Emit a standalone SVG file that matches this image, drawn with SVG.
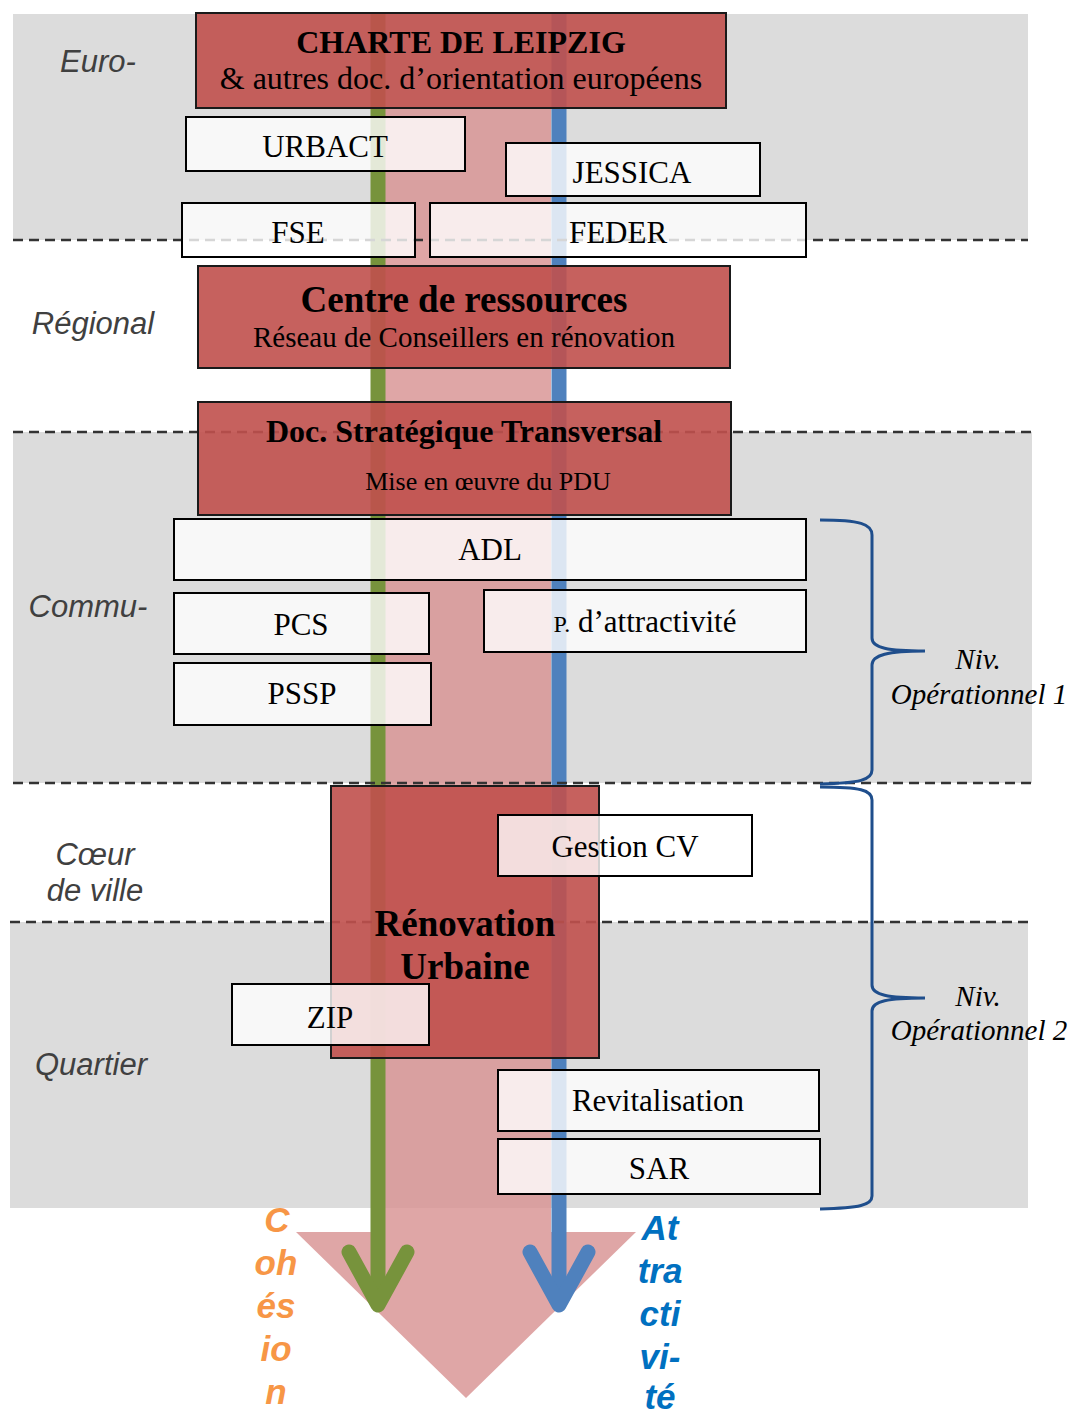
<svg xmlns="http://www.w3.org/2000/svg" width="1070" height="1409" viewBox="0 0 1070 1409">
<style>
.band{fill:#dcdcdc}
.dash{stroke:#333;stroke-width:2.5;stroke-dasharray:10 6;fill:none}
.red{fill:#c0504d;fill-opacity:0.9;stroke:#1a1a1a;stroke-width:2}
.white{fill:#ffffff;fill-opacity:0.8;stroke:#000;stroke-width:2}
.t{font-family:"Liberation Serif","Times New Roman",serif;fill:#000;text-anchor:middle}
.b{font-weight:bold}
.lvl{font-family:"Liberation Sans",Arial,sans-serif;font-style:italic;font-size:31px;fill:#404040;text-anchor:middle}
.niv{font-family:"Liberation Serif","Times New Roman",serif;font-style:italic;font-size:29px;fill:#000;text-anchor:middle}
.brace{fill:none;stroke:#1f4e8c;stroke-width:3}
.vert{font-family:"Liberation Sans",Arial,sans-serif;font-style:italic;font-weight:bold;font-size:35px;text-anchor:middle}
</style>
<g id="bands">
<rect class="band" x="13" y="14" width="1015" height="226"/>
<rect class="band" x="13" y="432" width="1019" height="351"/>
<rect class="band" x="10" y="922" width="1018" height="286"/>
</g>
<g id="flow">
<polygon points="385,108 551,108 551,1232 636,1232 466,1398 296,1232 385,1232" fill="#d89494" fill-opacity="0.83"/>
</g>
<g id="connectors">
<path d="M378 14 V1305" stroke="#77933c" stroke-width="15" fill="none"/>
<path d="M349 1252 L378 1305 L407 1252" stroke="#77933c" stroke-width="15" fill="none" stroke-linecap="round" stroke-linejoin="round"/>
<path d="M559 14 V1305" stroke="#4f81bd" stroke-width="15" fill="none"/>
<path d="M530 1252 L559 1305 L588 1252" stroke="#4f81bd" stroke-width="15" fill="none" stroke-linecap="round" stroke-linejoin="round"/>
</g>
<g id="dashes">
<line class="dash" x1="13" y1="240" x2="1028" y2="240"/>
<line class="dash" x1="13" y1="432" x2="1032" y2="432"/>
<line class="dash" x1="13" y1="783" x2="1032" y2="783"/>
<line class="dash" x1="10" y1="922" x2="1028" y2="922"/>
</g>
<g id="charte"><rect class="red" x="196" y="13" width="530" height="95"/>
<text class="t b" x="461" y="53" font-size="32">CHARTE DE LEIPZIG</text>
<text class="t" x="461" y="89" font-size="32">&amp; autres doc. d’orientation européens</text></g>
<g id="urbact"><rect class="white" x="186" y="117" width="279" height="54"/><text class="t" x="325" y="157" font-size="31">URBACT</text></g>
<g id="jessica"><rect class="white" x="506" y="143" width="254" height="53"/><text class="t" x="632" y="183" font-size="31">JESSICA</text></g>
<g id="fse"><rect class="white" x="182" y="203" width="233" height="54"/><text class="t" x="298" y="243" font-size="31">FSE</text></g>
<g id="feder"><rect class="white" x="430" y="203" width="376" height="54"/><text class="t" x="618" y="243" font-size="31">FEDER</text></g>
<g id="centre"><rect class="red" x="198" y="266" width="532" height="102"/>
<text class="t b" x="464" y="312" font-size="37">Centre de ressources</text>
<text class="t" x="464" y="347" font-size="29">Réseau de Conseillers en rénovation</text></g>
<g id="doc"><rect class="red" x="198" y="402" width="533" height="113"/>
<text class="t b" x="464" y="442" font-size="32">Doc. Stratégique Transversal</text>
<text class="t" x="488" y="490" font-size="26">Mise en œuvre du PDU</text></g>
<g id="adl"><rect class="white" x="174" y="519" width="632" height="61"/><text class="t" x="490" y="560" font-size="31">ADL</text></g>
<g id="pcs"><rect class="white" x="174" y="593" width="255" height="61"/><text class="t" x="301" y="635" font-size="31">PCS</text></g>
<g id="pattr"><rect class="white" x="484" y="590" width="322" height="62"/><text class="t" x="645" y="632" font-size="31"><tspan font-size="24">P.</tspan> d’attractivité</text></g>
<g id="pssp"><rect class="white" x="174" y="663" width="257" height="62"/><text class="t" x="302" y="704" font-size="31">PSSP</text></g>
<g id="renov"><rect class="red" x="331" y="786" width="268" height="272"/>
<text class="t b" x="465" y="936" font-size="37">Rénovation</text>
<text class="t b" x="465" y="979" font-size="37">Urbaine</text></g>
<g id="gestion"><rect class="white" x="498" y="815" width="254" height="61"/><text class="t" x="625" y="857" font-size="31">Gestion CV</text></g>
<g id="zip"><rect class="white" x="232" y="984" width="197" height="61"/><text class="t" x="330" y="1028" font-size="31">ZIP</text></g>
<g id="revit"><rect class="white" x="498" y="1070" width="321" height="61"/><text class="t" x="658" y="1111" font-size="31">Revitalisation</text></g>
<g id="sar"><rect class="white" x="498" y="1139" width="322" height="55"/><text class="t" x="659" y="1179" font-size="31">SAR</text></g>
<g id="levels">
<text class="lvl" x="98" y="72">Euro-</text>
<text class="lvl" x="93" y="334">Régional</text>
<text class="lvl" x="88" y="617">Commu-</text>
<text class="lvl" x="95" y="865">Cœur</text>
<text class="lvl" x="95" y="901">de ville</text>
<text class="lvl" x="91" y="1075">Quartier</text>
</g>
<g id="brace1">
<path class="brace" d="M820 520 C860 520 872 524 872 535 L872 638 C872 648 888 651 925 651 C888 651 872 655 872 665 L872 770 C872 780 860 783 820 784"/>
<text class="niv" x="978" y="669">Niv.</text>
<text class="niv" x="979" y="704">Opérationnel 1</text>
</g>
<g id="brace2">
<path class="brace" d="M820 787 C860 787 872 790 872 800 L872 985 C872 995 888 998 925 998 C888 998 872 1001 872 1011 L872 1196 C872 1205 860 1208 820 1209"/>
<text class="niv" x="978" y="1006">Niv.</text>
<text class="niv" x="979" y="1040">Opérationnel 2</text>
</g>
<g id="cohesion" fill="#f79646">
<text class="vert" x="277" y="1232">C</text>
<text class="vert" x="276" y="1275">oh</text>
<text class="vert" x="276" y="1318">és</text>
<text class="vert" x="276" y="1361">io</text>
<text class="vert" x="276" y="1404">n</text>
</g>
<g id="attractivite" fill="#0070c0">
<text class="vert" x="660" y="1240">At</text>
<text class="vert" x="660" y="1283">tra</text>
<text class="vert" x="660" y="1326">cti</text>
<text class="vert" x="660" y="1369">vi-</text>
<text class="vert" x="660" y="1409">té</text>
</g>
</svg>
